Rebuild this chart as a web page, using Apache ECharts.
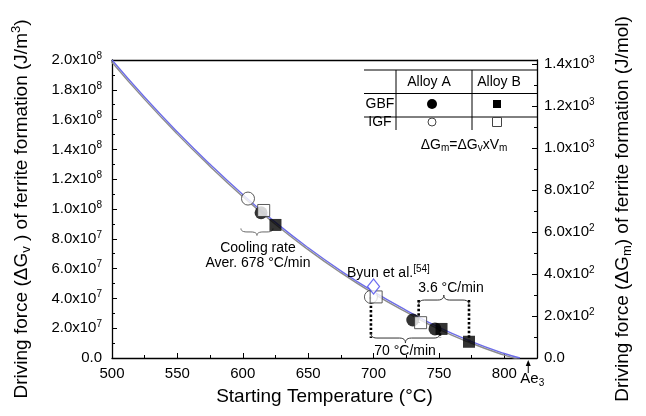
<!DOCTYPE html>
<html><head><meta charset="utf-8">
<script src="https://cdn.jsdelivr.net/npm/echarts@6/dist/echarts.min.js"></script>
<style>html,body{margin:0;padding:0;background:#fff}#c{width:646px;height:416px}</style>
</head><body><div id="c"></div>
<script>
// ---- data ----
const curveT = [500, 525, 550, 575, 600, 625, 650, 675, 700, 725, 750, 775, 800, 812];
const curveG = [2.0e8, 1.75e8, 1.517e8, 1.30e8, 1.097e8, 0.91e8, 0.74e8, 0.585e8, 0.445e8, 0.32e8, 0.205e8, 0.11e8, 0.03e8, 0];
const gbfA_T = [614, 730, 747];
const gbfA_G = [0.975e8, 0.255e8, 0.195e8];
const igfA_T = [604, 698];
const igfA_G = [1.07e8, 0.41e8];
const igfB_T = [616, 702, 736];
const igfB_G = [0.99e8, 0.41e8, 0.237e8];
const gbfB_T = [625, 752, 773];
const gbfB_G = [0.893e8, 0.195e8, 0.109e8];
const byunT = [700];
const byunG = [0.48e8];
const xTicks = [500, 550, 600, 650, 700, 750, 800];
const leftTicks = [0, 2e7, 4e7, 6e7, 8e7, 1e8, 1.2e8, 1.4e8, 1.6e8, 1.8e8, 2e8];
const rightTicks = [0, 200, 400, 600, 800, 1000, 1200, 1400];
const Vm = 7.1e-6; // molar volume, m3/mol (dGm = dGv x Vm)

const FF = "'Liberation Sans', Arial, sans-serif";
const zip = (a, b) => a.map((v, i) => [v, b[i]]);

function sci(v, list) {
  if (!list.some(t => Math.abs(t - v) < 1e-6 * Math.max(1, Math.abs(t)))) return '';
  if (v === 0) return '{n|0.0}';
  const e = Math.floor(Math.log10(v) + 1e-9);
  const m = (v / Math.pow(10, e)).toFixed(1);
  return '{n|' + m + 'x10}{s|' + e + '}';
}
const tickRich = {
  n: {fontSize: 15, fontFamily: FF, color: '#000', lineHeight: 18},
  s: {fontSize: 10, fontFamily: FF, color: '#000', lineHeight: 10, verticalAlign: 'top'}
};
const nameRich = {
  t: {fontSize: 19, fontFamily: FF, color: '#000', lineHeight: 23},
  sb: {fontSize: 13, fontFamily: FF, color: '#000', lineHeight: 12, verticalAlign: 'bottom'},
  sp: {fontSize: 13, fontFamily: FF, color: '#000', lineHeight: 12, verticalAlign: 'top'}
};
const axLine = {show: true, onZero: false, lineStyle: {color: '#000', width: 1.3}};
const axTick = {show: true, inside: true, length: 5, lineStyle: {color: '#000', width: 1}};
const mnTick = {show: true, splitNumber: 2, length: 3, lineStyle: {color: '#000', width: 1}};

const chart = echarts.init(document.getElementById('c'), null, {renderer: 'canvas'});
chart.setOption({
  animation: false,
  textStyle: {fontFamily: FF},
  grid: {left: 112, right: 109, top: 60, bottom: 58},
  xAxis: [
    {type: 'value', min: 500, max: 825, interval: 50, position: 'bottom',
     name: 'Starting Temperature (°C)', nameLocation: 'middle', nameGap: 29,
     nameTextStyle: {fontSize: 19, color: '#000', fontFamily: FF},
     axisLine: axLine, axisTick: axTick, minorTick: mnTick, splitLine: {show: false},
     axisLabel: {fontSize: 15, color: '#000', fontFamily: FF, margin: 8,
       formatter: v => xTicks.includes(v) ? String(v) : ''}},
    {type: 'value', min: 500, max: 825, position: 'top',
     axisLine: axLine, axisTick: {show: false}, axisLabel: {show: false}, splitLine: {show: false}}
  ],
  yAxis: [
    {type: 'value', min: 0, max: 2e8, interval: 2e7, position: 'left',
     name: '{t|Driving force (ΔG}{sb|v}{t| ) of ferrite formation (J/m}{sp|3}{t|)}',
     nameLocation: 'middle', nameRotate: 90, nameGap: 79, nameTextStyle: {rich: nameRich},
     axisLine: axLine, axisTick: axTick, minorTick: mnTick, splitLine: {show: false},
     axisLabel: {margin: 10, formatter: v => sci(v, leftTicks), rich: tickRich}},
    {type: 'value', min: 0, max: 2e8 * Vm, interval: 200, position: 'right',
     name: '{t|Driving force (ΔG}{sb|m}{t|) of ferrite formation (J/mol)}',
     nameLocation: 'middle', nameRotate: 90, nameGap: 74, nameTextStyle: {rich: nameRich},
     axisLine: axLine, axisTick: axTick, minorTick: mnTick, splitLine: {show: false},
     axisLabel: {margin: 7, formatter: v => sci(v, rightTicks), rich: tickRich}}
  ],
  series: [
    {type: 'line', data: zip(curveT, curveG), showSymbol: false, smooth: true, z: 2,
     lineStyle: {color: '#6d6de8', width: 1.4, shadowColor: '#8c8c8c', shadowBlur: 0.5, shadowOffsetX: -0.8, shadowOffsetY: 1.4}},
    {type: 'scatter', data: zip(gbfA_T, gbfA_G), symbol: 'circle', symbolSize: 13, z: 3,
     itemStyle: {color: '#000'}},
    {type: 'scatter', data: zip(igfA_T, igfA_G), symbol: 'circle', symbolSize: 13, z: 3,
     itemStyle: {color: '#fff', borderColor: '#333', borderWidth: 1}},
    {type: 'scatter', data: zip(igfB_T, igfB_G), symbol: 'rect', symbolSize: 12, z: 3,
     itemStyle: {color: '#fff', borderColor: '#333', borderWidth: 1}},
    {type: 'scatter', data: zip(gbfB_T, gbfB_G), symbol: 'rect', symbolSize: 12, z: 3,
     itemStyle: {color: '#000'}},
    {type: 'scatter', data: zip(byunT, byunG), symbol: 'diamond', symbolSize: [12, 15], z: 3,
     itemStyle: {color: '#fff', borderColor: '#4848ee', borderWidth: 1.2}}
  ]
});

// ---- annotations (anchored to data coordinates) ----
const P = (t, v) => chart.convertToPixel({seriesIndex: 0}, [t, v]);
function quad(pts, p0, c, p1) {
  for (let i = 1; i <= 6; i++) {
    const s = i / 6, u = 1 - s;
    pts.push([u * u * p0[0] + 2 * u * s * c[0] + s * s * p1[0], u * u * p0[1] + 2 * u * s * c[1] + s * s * p1[1]]);
  }
}
function brace(a, b, h, dir, color) {
  const x1 = a[0], x2 = b[0], y = a[1], xm = (x1 + x2) / 2, r = Math.min(6, (x2 - x1) / 4);
  const pts = [[x1, y - dir * h]];
  quad(pts, [x1, y - dir * h], [x1, y], [x1 + r, y]);
  pts.push([xm - r, y]);
  quad(pts, [xm - r, y], [xm, y], [xm, y + dir * h]);
  quad(pts, [xm, y + dir * h], [xm, y], [xm + r, y]);
  pts.push([x2 - r, y]);
  quad(pts, [x2 - r, y], [x2, y], [x2, y - dir * h]);
  return {type: 'polyline', z: 1, shape: {points: pts}, style: {stroke: color, lineWidth: 1, fill: null}};
}
const dot = {stroke: '#000', lineWidth: 2.6, lineDash: [2.4, 2]};
function dline(t, v1, v2) {
  const a = P(t, v1), b = P(t, v2);
  return {type: 'line', z: 1, shape: {x1: a[0], y1: a[1], x2: b[0], y2: b[1]}, style: dot};
}
function txt(p, text, opts) {
  return Object.assign({type: 'text', z: 5, x: p[0], y: p[1],
    style: Object.assign({text: text, fontSize: 14, fontFamily: FF, fill: '#000', align: 'center', verticalAlign: 'middle'}, opts || {})});
}
const txtRich = {
  t: {fontSize: 14, fontFamily: FF, fill: '#000', lineHeight: 17},
  s: {fontSize: 10, fontFamily: FF, fill: '#000', lineHeight: 10, verticalAlign: 'top'},
  b: {fontSize: 10, fontFamily: FF, fill: '#000', lineHeight: 10, verticalAlign: 'bottom'}
};
const g = [];
// cooling rate brace
g.push(brace(P(598.6, 0.846e8), P(623.1, 0.846e8), 3.5, 1, '#666'));
g.push(txt(P(611.6, 0.738e8), 'Cooling rate'));
g.push(txt(P(611.6, 0.638e8), 'Aver. 678 °C/min'));
// dotted connectors
g.push(dline(698, 0.41e8, 0.134e8));
g.push(dline(750.8, 0.195e8, 0.134e8));
g.push(dline(734.5, 0.389e8, 0.237e8));
g.push(dline(773, 0.389e8, 0.109e8));
// 70 C/min brace
g.push(brace(P(698, 0.134e8), P(750.8, 0.134e8), 5, 1, '#333'));
g.push(txt(P(724.1, 0.047e8), '70 °C/min'));
// 3.6 C/min brace
g.push(brace(P(734.5, 0.389e8), P(773, 0.389e8), 5, -1, '#333'));
g.push(txt(P(759.2, 0.47e8), '3.6 °C/min'));
// Byun et al.
g.push(txt(P(679.7, 0.57e8), '{t|Byun et al.}{s|[54]}', {align: 'left', rich: txtRich}));
// Ae3 arrow
const ae = P(818.3, 0);
g.push({type: 'line', z: 5, shape: {x1: ae[0], y1: ae[1] + 15, x2: ae[0], y2: ae[1] + 5}, style: {stroke: '#000', lineWidth: 1}});
g.push({type: 'polygon', z: 5, shape: {points: [[ae[0], ae[1] + 2], [ae[0] - 2.5, ae[1] + 8], [ae[0] + 2.5, ae[1] + 8]]}, style: {fill: '#000'}});
g.push(txt([ae[0] + 4, ae[1] + 21], '{t|Ae}{b|3}', {rich: {t: {fontSize: 15, fontFamily: FF, fill: '#000', lineHeight: 18}, b: txtRich.b}}));

// table (legend)
const TL = {stroke: '#000', lineWidth: 1};
[70, 93.5, 117].forEach(y => g.push({type: 'line', z: 5, shape: {x1: 364, y1: y, x2: 537, y2: y}, style: TL}));
[396, 472].forEach(x => g.push({type: 'line', z: 5, shape: {x1: x, y1: 70, x2: x, y2: 130}, style: TL}));
const tt = {fontSize: 14};
g.push(txt([429, 82], 'Alloy A', tt));
g.push(txt([499, 82], 'Alloy B', tt));
g.push(txt([380, 104], 'GBF', tt));
g.push(txt([380, 122.5], 'IGF', tt));
g.push({type: 'circle', z: 5, shape: {cx: 432, cy: 104, r: 5}, style: {fill: '#000'}});
g.push({type: 'rect', z: 5, shape: {x: 493, y: 100, width: 8, height: 8}, style: {fill: '#000'}});
g.push({type: 'circle', z: 5, shape: {cx: 432, cy: 122, r: 4}, style: {fill: '#fff', stroke: '#444', lineWidth: 1}});
g.push({type: 'rect', z: 5, shape: {x: 492.5, y: 117.5, width: 9, height: 9}, style: {fill: '#fff', stroke: '#444', lineWidth: 1}});
g.push(txt([464, 145], '{t|ΔG}{b|m}{t|=ΔG}{b|v}{t|xV}{b|m}', {rich: {
  t: {fontSize: 14, fontFamily: FF, fill: '#000', lineHeight: 17},
  b: {fontSize: 10, fontFamily: FF, fill: '#000', lineHeight: 10, verticalAlign: 'bottom'}}}));

chart.setOption({graphic: g});
</script>
</body></html>
